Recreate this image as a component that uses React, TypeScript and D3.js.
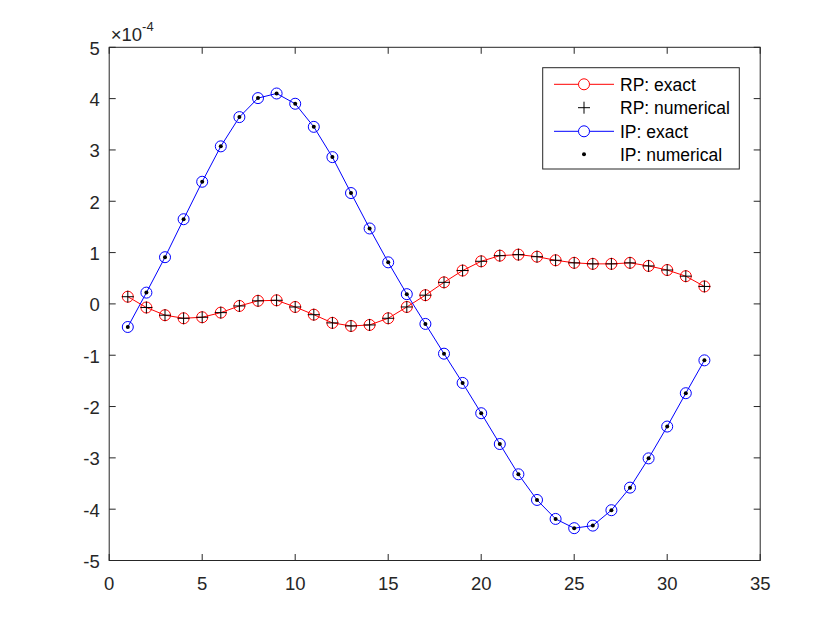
import React, { useMemo } from 'react';
import * as d3 from 'd3';

// sample index 1..32, values in units of 1e-4
const xs = d3.range(1, 33);
const rpValues = [
  0.14, -0.07, -0.22, -0.28, -0.26, -0.17, -0.04, 0.06, 0.07, -0.06,
  -0.21, -0.37, -0.43, -0.41, -0.28, -0.06, 0.17, 0.42, 0.65, 0.83,
  0.94, 0.96, 0.92, 0.85, 0.8, 0.78, 0.78, 0.8, 0.74, 0.66,
  0.54, 0.34,
];
const ipValues = [
  -0.45, 0.22, 0.91, 1.65, 2.38, 3.07, 3.64, 4.01, 4.1, 3.9,
  3.45, 2.86, 2.16, 1.47, 0.81, 0.19, -0.39, -0.97, -1.54, -2.13,
  -2.73, -3.32, -3.82, -4.19, -4.37, -4.32, -4.02, -3.58, -3.01, -2.39,
  -1.74, -1.1,
];
const xTicks = [0, 5, 10, 15, 20, 25, 30, 35];
const yTicks = [-5, -4, -3, -2, -1, 0, 1, 2, 3, 4, 5];
const legendLabels = ['RP: exact', 'RP: numerical', 'IP: exact', 'IP: numerical'];
const exponentLabel = '-4';

const W = 840;
const H = 630;
const FONT = '"Liberation Sans", Arial, Helvetica, sans-serif';
const AXIS = '#262626';

export default function App() {
  const left = 109.2, right = 760.2, top = 47.3, bottom = 560.5;
  const tickLen = 6.5;

  const x = useMemo(() => d3.scaleLinear().domain([0, 35]).range([left, right]), []);
  const y = useMemo(() => d3.scaleLinear().domain([-5, 5]).range([bottom, top]), []);

  const rp = xs.map((v, i) => ({ x: v, y: rpValues[i] }));
  const ip = xs.map((v, i) => ({ x: v, y: ipValues[i] }));

  const line = d3.line<{ x: number; y: number }>()
    .x(d => x(d.x))
    .y(d => y(d.y));

  const legend = { x: 542.7, y: 67.7, w: 196.6, h: 101.3 };
  const rowY = [84.3, 107.7, 131.3, 154.3];
  const mx = 584;

  return (
    <div style={{ position: 'absolute', left: 0, top: 0 }}>
      <svg width={W} height={H} style={{ display: 'block', background: '#fff' }} fontFamily={FONT}>
        <rect x={0} y={0} width={W} height={H} fill="#fff" />

        {/* ticks on all four sides, pointing in */}
        {xTicks.map(t => (
          <g key={`xt${t}`} stroke={AXIS} strokeWidth={1}>
            <line x1={x(t)} x2={x(t)} y1={bottom} y2={bottom - tickLen} />
            <line x1={x(t)} x2={x(t)} y1={top} y2={top + tickLen} />
          </g>
        ))}
        {yTicks.map(t => (
          <g key={`yt${t}`} stroke={AXIS} strokeWidth={1}>
            <line x1={left} x2={left + tickLen} y1={y(t)} y2={y(t)} />
            <line x1={right} x2={right - tickLen} y1={y(t)} y2={y(t)} />
          </g>
        ))}
        <rect x={left} y={top} width={right - left} height={bottom - top} fill="none" stroke={AXIS} strokeWidth={1} />

        {/* tick labels */}
        {xTicks.map(t => (
          <text key={`xl${t}`} x={x(t)} y={bottom + 29} textAnchor="middle" fontSize={18.5} fill={AXIS}>{t}</text>
        ))}
        {yTicks.map(t => (
          <text key={`yl${t}`} x={left - 9.5} y={y(t) + 7.5} textAnchor="end" fontSize={18.5} fill={AXIS}>{t}</text>
        ))}
        <text x={left + 1.5} y={top - 6} fontSize={18.5} fill={AXIS}>
          ×10
          <tspan dy={-10} fontSize={13}>{exponentLabel}</tspan>
        </text>

        {/* RP exact: red line + circles */}
        <path d={line(rp) || ''} fill="none" stroke="#ff0000" strokeWidth={1} />
        {rp.map((d, i) => (
          <circle key={`rc${i}`} cx={x(d.x)} cy={y(d.y)} r={5.5} fill="none" stroke="#ff0000" strokeWidth={1} />
        ))}
        {/* RP numerical: black plus */}
        {rp.map((d, i) => (
          <path key={`rp${i}`} d={`M${x(d.x) - 6},${y(d.y)}h12M${x(d.x)},${y(d.y) - 6}v12`} stroke="#000" strokeWidth={1} />
        ))}
        {/* IP exact: blue line + circles */}
        <path d={line(ip) || ''} fill="none" stroke="#0000ff" strokeWidth={1} />
        {ip.map((d, i) => (
          <circle key={`ic${i}`} cx={x(d.x)} cy={y(d.y)} r={5.5} fill="none" stroke="#0000ff" strokeWidth={1} />
        ))}
        {/* IP numerical: black dots */}
        {ip.map((d, i) => (
          <circle key={`id${i}`} cx={x(d.x)} cy={y(d.y)} r={2} fill="#000" />
        ))}

        {/* legend */}
        <rect x={legend.x} y={legend.y} width={legend.w} height={legend.h} fill="#fff" stroke={AXIS} strokeWidth={1} />
        <line x1={554} x2={614} y1={rowY[0]} y2={rowY[0]} stroke="#ff0000" strokeWidth={1} />
        <circle cx={mx} cy={rowY[0]} r={5.5} fill="#fff" stroke="#ff0000" strokeWidth={1} />
        <path d={`M${mx - 6},${rowY[1]}h12M${mx},${rowY[1] - 6}v12`} stroke="#000" strokeWidth={1} />
        <line x1={554} x2={614} y1={rowY[2]} y2={rowY[2]} stroke="#0000ff" strokeWidth={1} />
        <circle cx={mx} cy={rowY[2]} r={5.5} fill="#fff" stroke="#0000ff" strokeWidth={1} />
        <circle cx={mx} cy={rowY[3]} r={2} fill="#000" />
        {legendLabels.map((s, i) => (
          <text key={s} x={620} y={rowY[i] + 6.5} fontSize={17.5} fill="#000">{s}</text>
        ))}
      </svg>
    </div>
  );
}
